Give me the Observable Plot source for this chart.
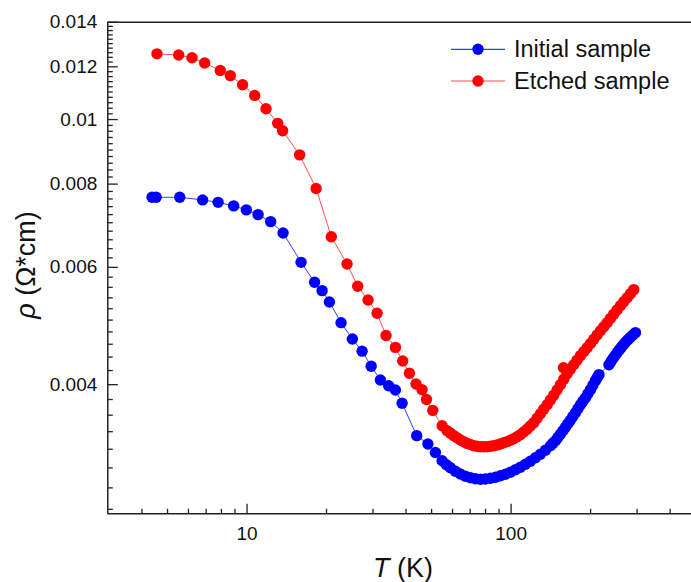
<!DOCTYPE html>
<html><head><meta charset="utf-8">
<script src="https://cdn.jsdelivr.net/npm/d3@7"></script>
<script src="https://cdn.jsdelivr.net/npm/@observablehq/plot@0.6"></script>
<style>
html,body{margin:0;padding:0;background:#fff;}
#chart{width:691px;height:582px;overflow:hidden;}
</style></head><body><div id="chart"></div>
<script>
// ---- data (T in K, rho in Ohm*cm) ----
const initialT = [4.37, 4.53, 5.56, 6.79, 7.77, 8.90, 9.94, 11.01, 12.29, 13.69, 16.02, 18.02, 19.24, 20.50, 22.70, 25.05, 27.27, 29.52, 31.98, 34.38, 36.45, 38.65, 43.90, 48.40,
  51.67, 54.78, 56.87, 58.89, 61.52, 64.26, 67.13, 70.12, 73.24, 76.51, 79.92, 83.48, 87.20, 91.09, 95.15, 99.39, 103.8, 108.4, 113.3, 118.3, 123.6, 129.1, 134.9, 140.9, 144.0, 147.2, 150.4, 153.7, 157.1, 160.6, 164.1, 167.7, 171.4, 175.2, 179.1, 183.0, 187.1, 191.2, 195.4, 199.7, 204.1, 208.6, 211.8, 215.1,
  234.7, 239.4, 244.1, 248.4, 252.7, 257.2, 261.7, 266.3, 271.0, 277.0, 283.1, 289.3, 295.7];
const initialRho = [0.007644, 0.007644, 0.007644, 0.007575, 0.007512, 0.00742, 0.007318, 0.0072, 0.007028, 0.006758, 0.006105, 0.005698, 0.005536, 0.005324, 0.004956, 0.004685, 0.004491, 0.004264, 0.004066, 0.003986, 0.003927, 0.003752, 0.003354, 0.003258,
  0.003165, 0.003075, 0.003033, 0.003002, 0.002966, 0.002937, 0.002915, 0.0029, 0.00289, 0.002885, 0.002887, 0.002895, 0.002905, 0.00292, 0.002935, 0.002956, 0.002981, 0.003007, 0.003038, 0.00307, 0.003107, 0.003145, 0.003189, 0.003239, 0.003268, 0.003296, 0.003334, 0.003371, 0.003412, 0.003453, 0.003496, 0.003538, 0.003585, 0.003631, 0.003682, 0.003733, 0.003779, 0.003824, 0.003878, 0.003932, 0.003994, 0.004056, 0.004099, 0.004141,
  0.004286, 0.004339, 0.004391, 0.004433, 0.004475, 0.004515, 0.004554, 0.004594, 0.004633, 0.004674, 0.004714, 0.004751, 0.004788];
const etchedT = [4.56, 5.51, 6.19, 6.91, 7.92, 8.64, 9.62, 10.69, 11.8, 13.06, 13.64, 15.82, 18.26, 20.85, 23.92, 26.24, 28.73, 31.08, 33.6, 36.46, 38.86, 41.2, 43.65, 46.0, 47.8, 50.5, 54.8,
  57.23, 58.9, 60.62, 62.42, 64.27, 66.17, 68.13, 70.12, 72.16, 74.3, 76.5, 78.78, 81.11, 83.48, 85.92, 88.47, 91.1, 93.79, 96.56, 99.39, 102.3, 105.3, 108.4, 111.65, 115.0, 118.35, 121.8, 125.4, 129.1, 132.9, 136.9, 140.9, 145.0, 149.3, 153.7, 157.8, 158.3, 163.0, 167.7, 172.6, 177.7, 183.0, 188.5, 194.1, 199.8, 205.6, 211.7, 217.9, 224.4, 231.0, 237.7, 244.6, 251.9, 259.4, 267.1, 275.1, 283.1, 291.3];
const etchedRho = [0.01255, 0.0125, 0.01238, 0.01216, 0.01185, 0.01164, 0.01128, 0.01087, 0.01038, 0.00987, 0.00962, 0.00885, 0.00788, 0.00667, 0.00607, 0.00562, 0.00536, 0.00512, 0.00474, 0.00455, 0.00434, 0.00416, 0.00401, 0.00393, 0.0038, 0.00366, 0.00347,
  0.003412, 0.003383, 0.003354, 0.003329, 0.003304, 0.003284, 0.003265, 0.003252, 0.003239, 0.003233, 0.003228, 0.003228, 0.003228, 0.003233, 0.003239, 0.003248, 0.003258, 0.003272, 0.003285, 0.003302, 0.003319, 0.003342, 0.003366, 0.003398, 0.00343, 0.003469, 0.003508, 0.003563, 0.003618, 0.003675, 0.003733, 0.003795, 0.003857, 0.003928, 0.004, 0.004242, 0.004077, 0.004155, 0.00422, 0.004286, 0.004354, 0.004422, 0.004484, 0.004546, 0.004613, 0.004681, 0.004751, 0.004821, 0.004888, 0.004956, 0.00503, 0.005104, 0.00518, 0.005256, 0.00533, 0.005403, 0.005479, 0.005555];

const seriesNames = ["Initial sample", "Etched sample"];
const seriesColors = ["#0000ff", "#ff0000"];
const lineColors = ["#3040ff", "#ff5050"];

const yMajorTicks = [0.004, 0.006, 0.008, 0.01, 0.012, 0.014];
const yTickLabels = ["0.004", "0.006", "0.008", "0.01", "0.012", "0.014"];
const yMinorTicks = d3.range(26, 139, 2).filter(k => k % 20 !== 0).map(k => k / 10000);
const xMajorTicks = [10, 100];
const xTickLabels = ["10", "100"];
const xMinorTicks = [4, 5, 6, 7, 8, 9, 20, 30, 40, 50, 60, 70, 80, 90, 200, 300, 400];
const xDomain = [2.97, 482];
const yDomain = [0.00256, 0.014];

const initial = initialT.map((T, i) => ({T, rho: initialRho[i]}));
const etched = etchedT.map((T, i) => ({T, rho: etchedRho[i]}));

const W = 691, H = 582, mL = 107.3, mT = 21.7, mB = 68.7;
const font = "'Liberation Sans', Arial, Helvetica, sans-serif";
const axisColor = "#222";

// inward tick shapes (custom symbols)
const tickRight = len => ({draw(ctx) { ctx.moveTo(0, 0); ctx.lineTo(len, 0); }});
const tickUp = len => ({draw(ctx) { ctx.moveTo(0, 0); ctx.lineTo(0, -len); }});

const svg = Plot.plot({
  width: W, height: H,
  marginLeft: mL, marginRight: 0, marginTop: mT, marginBottom: mB,
  style: {fontFamily: font, background: "white", color: "#111"},
  x: {type: "log", domain: xDomain},
  y: {type: "log", domain: yDomain},
  marks: [
    Plot.line(initial, {x: "T", y: "rho", stroke: lineColors[0], strokeWidth: 1}),
    Plot.line(etched, {x: "T", y: "rho", stroke: lineColors[1], strokeWidth: 1}),
    Plot.dot(initial, {x: "T", y: "rho", r: 5.7, fill: seriesColors[0]}),
    Plot.dot(etched, {x: "T", y: "rho", r: 5.7, fill: seriesColors[1]}),
    // inward ticks
    Plot.dot(yMinorTicks, {x: () => xDomain[0], y: d => d, symbol: tickRight(5), fill: "none", stroke: axisColor, strokeWidth: 1.3}),
    Plot.dot(yMajorTicks, {x: () => xDomain[0], y: d => d, symbol: tickRight(10), fill: "none", stroke: axisColor, strokeWidth: 1.3}),
    Plot.dot(xMinorTicks, {x: d => d, y: () => yDomain[0], symbol: tickUp(5), fill: "none", stroke: axisColor, strokeWidth: 1.3}),
    Plot.dot(xMajorTicks, {x: d => d, y: () => yDomain[0], symbol: tickUp(10), fill: "none", stroke: axisColor, strokeWidth: 1.3}),
    // labels
    Plot.axisY(yMajorTicks, {anchor: "left", label: null, tickSize: 0, tickPadding: 10.5, fontSize: 19, fill: "#111",
      tickFormat: d => yTickLabels[yMajorTicks.indexOf(d)]}),
    Plot.axisX(xMajorTicks, {anchor: "bottom", label: null, tickSize: 0, tickPadding: 12.5, fontSize: 19, fill: "#111",
      tickFormat: d => xTickLabels[xMajorTicks.indexOf(d)]}),
    // frame (left, top, bottom)
    Plot.ruleX([xDomain[0]], {stroke: axisColor, strokeWidth: 1.5}),
    Plot.ruleY(yDomain, {stroke: axisColor, strokeWidth: 1.5})
  ]
});

const s = d3.select(svg);
// axis titles
const xt = s.append("text").attr("x", 403).attr("y", 577).attr("text-anchor", "middle")
  .attr("font-size", 27).attr("font-family", font).attr("fill", "#111");
xt.append("tspan").attr("font-style", "italic").text("T");
xt.append("tspan").text(" (K)");
const yt = s.append("text").attr("transform", "translate(35,265) rotate(-90)").attr("text-anchor", "middle")
  .attr("font-size", 27).attr("font-family", font).attr("fill", "#111");
yt.append("tspan").attr("font-style", "italic").text("ρ");
yt.append("tspan").text(" (Ω*cm)");

// legend
const leg = s.append("g").attr("font-family", font).attr("text-anchor", "start");
const legY = [49.3, 81];
seriesNames.forEach((name, i) => {
  leg.append("line").attr("x1", 451).attr("x2", 505).attr("y1", legY[i]).attr("y2", legY[i])
    .attr("stroke", lineColors[i]).attr("stroke-width", 1.2);
  leg.append("circle").attr("cx", 478).attr("cy", legY[i]).attr("r", 5.7).attr("fill", seriesColors[i]);
  leg.append("text").attr("x", 514).attr("y", legY[i] + 7.6).attr("font-size", 23.5).attr("fill", "#111")
    .attr("text-anchor", "start").text(name);
});

document.getElementById("chart").appendChild(svg);
</script>
</body></html>
